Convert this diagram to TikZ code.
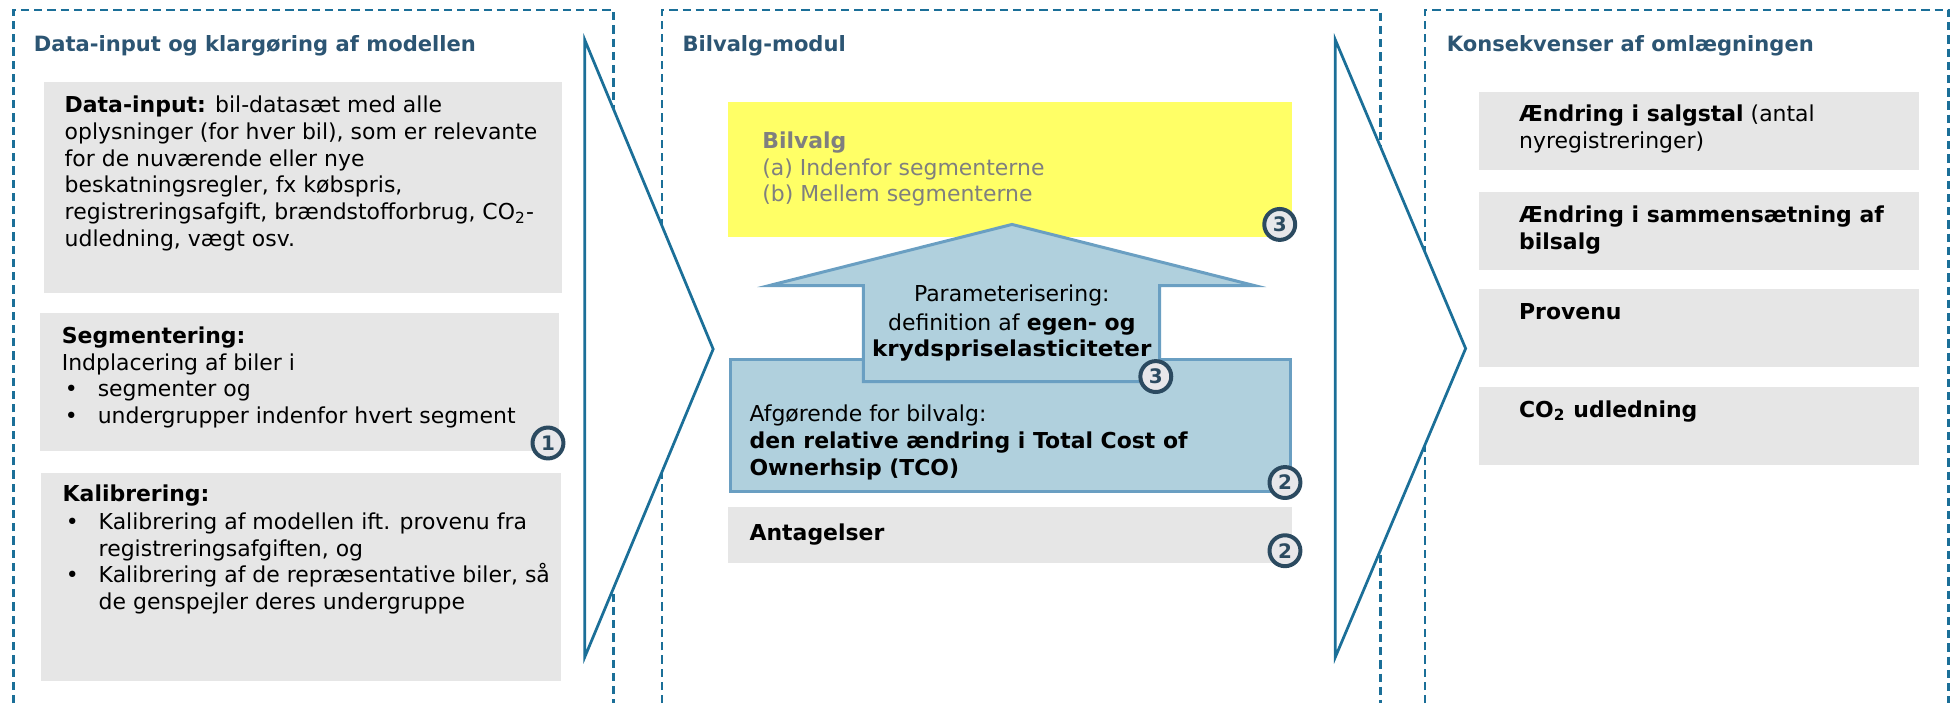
\documentclass[tikz,border=0pt]{standalone}
\usepackage{fontspec}
\usepackage{graphicx}
\setmainfont{DejaVu Sans}
\usetikzlibrary{fit}
\definecolor{dashblue}{HTML}{1B6F98}
\definecolor{titlecol}{HTML}{2C5573}
\definecolor{boxgray}{HTML}{E6E6E6}
\definecolor{ybox}{HTML}{FFFF66}
\definecolor{afill}{HTML}{B0D0DD}
\definecolor{aline}{HTML}{6A9FC2}
\definecolor{bline}{HTML}{2B4A60}
\definecolor{bfill}{HTML}{E7E7EA}
\definecolor{gtext}{HTML}{7F7F7F}
\newcommand\TL[4][]{\node[txt,#1] (#2) at (#3) {#4};}
\begin{document}
\begin{tikzpicture}[x=0.5pt,y=-0.5pt,
  panel/.style={draw=dashblue, line width=1.1pt, dash pattern=on 3.3pt off 2pt},
  chev/.style={draw=dashblue, fill=white, line width=1.1pt, line join=miter},
  gbox/.style={fill=boxgray, inner sep=0pt},
  txt/.style={inner sep=0pt, anchor=base west, font=\fontsize{8.8}{10.7}\selectfont},
  ttl/.style={txt, font=\fontsize{8.45}{10}\selectfont\bfseries, text=titlecol},
  ytxt/.style={txt, text=gtext},
  badge/.style={circle, draw=bline, line width=1.6pt, fill=bfill, inner sep=0pt, minimum size=12.4pt, font=\fontsize{8}{8}\selectfont\bfseries, text=bline},
]
\useasboundingbox (0,0) rectangle (1568,564);
% panels
\draw[panel] (11,564) -- (11,8) -- (492,8) -- (492,564);
\draw[panel] (531,564) -- (531,8) -- (1107,8) -- (1107,564);
\draw[panel] (1143,564) -- (1143,8) -- (1563,8) -- (1563,564);
% chevrons
\draw[chev] (469,32) -- (572,280) -- (469,527) -- cycle;
\draw[chev] (1071,32) -- (1175.5,279.5) -- (1071,527) -- cycle;
% titles
\TL[ttl]{t1}{26.7,41.5}{Data-input og klargøring af modellen}
\TL[ttl]{t2}{547,41.5}{Bilvalg-modul}
\TL[ttl]{t3}{1160,41.5}{Konsekvenser af omlægningen}
% left boxes
\node[gbox, fit={(35,65.5)(451,235)}] (dbox) {};
\node[gbox, fit={(32,251)(448,362)}] (sbox) {};
\node[gbox, fit={(33,379)(450,546)}] (kbox) {};
\TL{d1}{51.5,90.4}{\textbf{Data-input:} bil-datasæt med alle}
\TL{d2}{51.5,111.8}{oplysninger (for hver bil), som er relevante}
\TL{d3}{51.5,133.2}{for de nuværende eller nye}
\TL{d4}{51.5,154.6}{beskatningsregler, fx købspris,}
\TL{d5}{51.5,176}{registreringsafgift, brændstofforbrug, CO\textsubscript{2}-}
\TL{d6}{51.5,197.4}{udledning, vægt osv.}
\TL{s1}{49.2,275.4}{\textbf{Segmentering:}}
\TL{s2}{49.2,296.8}{Indplacering af biler i}
\TL{s3b}{51.6,318.2}{\textbullet}
\TL{s3}{78,318.2}{segmenter og}
\TL{s4b}{51.6,339.5}{\textbullet}
\TL{s4}{78,339.5}{undergrupper indenfor hvert segment}
\TL{k1}{49.9,402.4}{\textbf{Kalibrering:}}
\TL{k2b}{52.5,424.6}{\textbullet}
\TL{k2}{78.8,424.6}{Kalibrering af modellen ift. provenu fra}
\TL{k3}{78.8,446}{registreringsafgiften, og}
\TL{k4b}{52.5,467.4}{\textbullet}
\TL{k4}{78.8,467.4}{Kalibrering af de repræsentative biler, så}
\TL{k5}{78.8,488.7}{de genspejler deres undergruppe}
% middle
\node[fit={(584,81.5)(1036,190)}, fill=ybox, inner sep=0pt] (ybx) {};
\TL[ytxt]{y1}{611,119}{\textbf{Bilvalg}}
\TL[ytxt]{y2}{611,140.4}{(a) Indenfor segmenterne}
\TL[ytxt]{y3}{611,161.8}{(b) Mellem segmenterne}
\node[fit={(585.9,288.6)(1034.8,394.5)}, fill=afill, draw=aline, line width=1.2pt, inner sep=0pt] (tco) {};
\draw[fill=afill, draw=aline, line width=1.2pt, line join=miter] (811.7,180) -- (1006,229) -- (930,229) -- (930,306) -- (692.5,306) -- (692.5,229) -- (617,229) -- cycle;
\TL[anchor=base]{p1}{811.5,242}{Parameterisering:}
\TL[anchor=base]{p2}{811.5,264.7}{definition af \textbf{egen- og}}
\TL[anchor=base]{p3}{811.5,286}{\scalebox{1.05}[1]{\textbf{krydspriselasticiteter}}}
\TL{c1}{600.8,338}{Afgørende for bilvalg:}
\TL{c2}{600.8,359.6}{\textbf{den relative ændring i Total Cost of}}
\TL{c3}{600.8,381}{\textbf{Ownerhsip (TCO)}}
\node[gbox, fit={(584,406.4)(1036,451.8)}] (abox) {};
\TL{a1}{600.8,433.6}{\textbf{Antagelser}}
% right
\node[gbox, fit={(1186,73.5)(1539,136.3)}] (rA) {};
\node[gbox, fit={(1186,153.7)(1539,216.6)}] (rB) {};
\node[gbox, fit={(1186,231.8)(1539,294)}] (rC) {};
\node[gbox, fit={(1186,310)(1539,373)}] (rD) {};
\TL{r1}{1218,97.6}{\textbf{Ændring i salgstal} (antal}
\TL{r2}{1218,119}{nyregistreringer)}
\TL{r3}{1218,178.6}{\textbf{Ændring i sammensætning af}}
\TL{r4}{1218,200.5}{\textbf{bilsalg}}
\TL{r5}{1218,256}{\textbf{Provenu}}
\TL{r6}{1218,334.7}{\textbf{CO\textsubscript{2} udledning}}
% badges
\node[badge] (b1) at (439.5,355.3) {1};
\node[badge] (b3y) at (1026.4,180) {3};
\node[badge] (b3a) at (927,302) {3};
\node[badge] (b2t) at (1030.6,387) {2};
\node[badge] (b2a) at (1030.6,441.7) {2};
\end{tikzpicture}
\end{document}
